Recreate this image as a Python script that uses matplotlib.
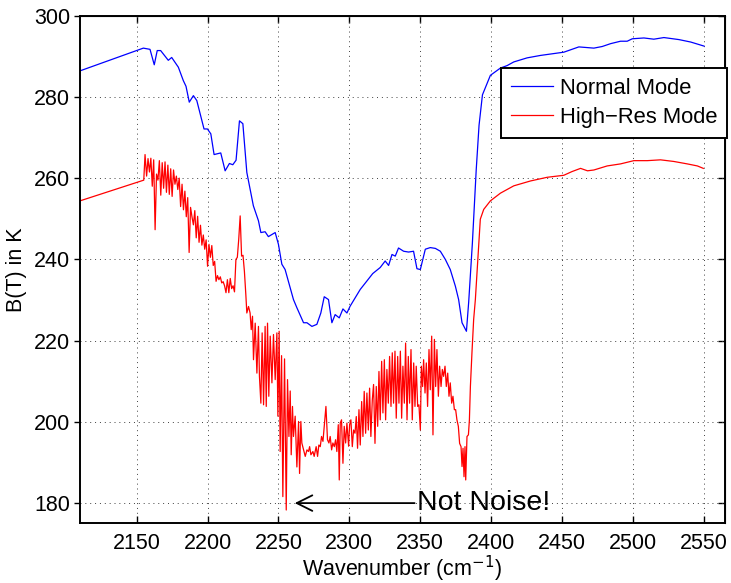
import numpy as np
import matplotlib
matplotlib.use("Agg")
import matplotlib.pyplot as plt

plt.rcParams["font.family"] = ["Liberation Sans", "DejaVu Sans"]

# Normal mode spectrum (wavenumber in cm^-1, brightness temperature in K)
normal_wn = [2110, 2154.7, 2159.4, 2162.4, 2164.5, 2166.9, 2172.3, 2174.7, 2179.4,
             2182.9, 2184.8, 2187.1, 2190.0, 2192.4, 2197.5, 2199.9, 2202.3, 2204.6,
             2209.3, 2212.4, 2215.4, 2217.8, 2220.1, 2222.5, 2224.9, 2227.7, 2232.3,
             2235.9, 2237.6, 2240.6, 2242.9, 2247.7, 2250.0, 2252.4, 2254.7, 2260.6,
             2263.0, 2267.7, 2270.1, 2273.6, 2277.1, 2279.9, 2282.3, 2285.3, 2287.7,
             2290.0, 2292.9, 2295.5, 2298.3, 2300.6, 2307.7, 2312.0, 2316.5, 2321.8,
             2325.3, 2327.7, 2330.1, 2332.4, 2334.7, 2338.3, 2341.8, 2345.3, 2347.7,
             2350.1, 2353.6, 2357.1, 2360.7, 2364.2, 2367.7, 2371.2, 2374.8, 2377.1,
             2379.5, 2382.6, 2384.2, 2386.8, 2389.5, 2391.5, 2393.9, 2399.5, 2406.6,
             2411.3, 2416.0, 2425.4, 2434.8, 2451.3, 2461.9, 2472.5, 2478.4, 2484.3,
             2491.3, 2496.0, 2499.6, 2507.8, 2514.8, 2521.9, 2532.5, 2540.8, 2550.2]
normal_bt = [286.4, 292.0, 291.7, 287.9, 291.4, 291.4, 289.0, 289.7, 287.3,
             284.0, 282.6, 278.7, 280.3, 279.1, 272.1, 272.1, 270.9, 265.8,
             266.2, 261.8, 263.6, 263.3, 264.4, 274.1, 273.4, 261.4, 253.2,
             249.5, 246.6, 246.8, 245.6, 246.6, 243.7, 238.8, 237.5, 230.1,
             228.1, 224.4, 224.4, 223.5, 224.0, 226.8, 230.8, 230.1, 224.4,
             226.4, 225.6, 227.8, 226.8, 228.5, 232.6, 234.5, 236.5, 238.0,
             239.6, 238.5, 241.2, 240.8, 242.8, 242.0, 241.8, 242.0, 237.7,
             237.5, 242.5, 242.9, 242.7, 242.0, 240.0, 237.5, 233.4, 230.1,
             224.4, 222.3, 229.5, 244.0, 262.0, 273.0, 280.5, 285.3, 287.1,
             287.7, 288.6, 289.6, 290.2, 291.0, 292.3, 292.0, 292.4, 293.1,
             293.7, 293.7, 294.3, 294.5, 294.2, 294.6, 294.1, 293.5, 292.5]

# High-resolution mode spectrum
highres_wn = [2110, 2155.0,
              2155.9, 2157, 2158, 2159, 2160, 2161, 2162, 2163, 2164, 2165,
              2166, 2167, 2168, 2169, 2170, 2171, 2172, 2173, 2174, 2175,
              2176, 2177, 2178, 2179, 2180, 2181, 2182, 2183, 2184, 2185,
              2186, 2187, 2188, 2189, 2190, 2191, 2192, 2193, 2194, 2195,
              2196, 2197, 2198, 2199, 2200, 2201, 2202, 2203, 2204, 2205,
              2206, 2207, 2208, 2209, 2210, 2211, 2212, 2213, 2214, 2215,
              2216, 2217, 2218, 2219, 2220, 2221, 2222, 2223, 2224, 2225,
              2226, 2227,
              2227.7, 2228.9, 2230.0, 2230.8, 2231.7, 2232.4, 2233.6, 2234.8, 2235.9, 2236.6,
              2237.6, 2238.5, 2239.5, 2240.6, 2241.4, 2242.3, 2243.2, 2244.2, 2245.4, 2246.5,
              2247.7, 2248.9, 2249.6, 2250.5, 2251.2, 2252.2, 2253.1, 2254.3, 2255.5, 2256.4,
              2257.4, 2258.3, 2259.0, 2259.9, 2260.6, 2261.8, 2263.0, 2264.2, 2264.9, 2265.8,
              2266.5, 2267.7, 2268.9, 2270.1, 2271.2, 2272.0, 2272.9, 2274.3, 2275.2, 2276.6,
              2277.6, 2278.5, 2279.5, 2280.4, 2281.4, 2282.5, 2283.5, 2284.6, 2285.6, 2286.5,
              2287.5, 2288.4, 2289.4, 2290.3, 2291.2, 2292.2, 2292.9, 2293.6, 2294.5, 2295.5,
              2296.4, 2297.4, 2298.3, 2299.5, 2300.2,
              2301.1, 2302.1, 2303.0, 2304.0, 2304.9, 2305.8, 2306.8, 2307.7, 2308.7, 2309.6,
              2310.5, 2311.5, 2312.4, 2313.4, 2314.3, 2315.2, 2316.2, 2317.1, 2318.1, 2319.0,
              2320.0, 2320.9, 2321.8, 2322.8, 2323.7, 2324.7, 2325.6, 2326.5, 2327.5, 2328.4,
              2329.4, 2330.3, 2331.2, 2332.2, 2333.1, 2334.1, 2335.0, 2336.0, 2336.9, 2337.8,
              2338.8, 2339.7, 2340.7, 2341.6, 2342.5, 2343.5, 2344.4, 2345.4, 2346.3, 2347.2,
              2348.2, 2349.1, 2350.1, 2350.8, 2351.7, 2352.4, 2353.4, 2354.3, 2355.2, 2356.2,
              2357.1, 2358.1, 2359.0, 2360.0, 2360.9, 2361.8, 2362.8, 2363.7, 2364.7, 2365.6,
              2366.5, 2367.5, 2368.4, 2369.4, 2370.3, 2371.2, 2372.2, 2373.1, 2374.1, 2375.0,
              2375.9, 2376.9, 2377.8, 2378.8, 2379.5, 2380.2, 2380.9, 2381.6, 2382.1, 2383.0,
              2384.0, 2384.7, 2385.4, 2386.5, 2387.7,
              2388.9, 2392.4, 2394.8, 2399.5, 2406.6, 2416.0, 2427.8, 2439.5, 2451.3, 2457.0,
              2463.1, 2468.0, 2472.5, 2481.9, 2491.3, 2500.7, 2510.2, 2519.5, 2528.9, 2538.4,
              2545.5, 2549.7]
highres_bt = [254.4, 259.5,
              265.8, 260.5, 264.8, 261.5, 264.9, 258.0, 264.5, 247.3, 261.0, 259.5,
              264.3, 255.8, 263.8, 257.5, 264.0, 256.5, 263.2, 256.0, 262.3, 255.5,
              262.0, 258.5, 260.5, 257.2, 260.0, 253.0, 258.5, 252.2, 256.8, 250.5,
              255.2, 241.7, 252.8, 250.5, 248.5, 252.0, 245.3, 250.6, 244.2, 248.4,
              243.5, 246.0, 242.5, 244.8, 238.3, 243.7, 240.5, 243.4, 238.5, 239.5,
              234.6, 236.0, 235.0, 235.7, 234.2, 234.5, 233.5, 231.8, 235.0, 231.8,
              235.3, 232.8, 233.5, 232.0, 240.0, 240.5, 245.0, 250.7, 240.8, 241.0,
              237.0, 231.3,
              226.8, 228.4, 226.8, 222.7, 226.0, 215.3, 224.3, 212.0, 223.5, 211.2,
              204.6, 221.9, 204.2, 223.5, 203.8, 224.3, 206.3, 221.1, 209.6, 221.5,
              210.4, 221.9, 201.4, 222.3, 192.7, 216.3, 181.6, 215.5, 178.3, 210.4,
              196.4, 207.6, 191.9, 203.8, 196.4, 201.4, 188.9, 200.1, 187.3, 200.1,
              194.8, 193.1, 191.5, 193.1, 192.7, 193.9, 191.9, 192.7, 191.5, 193.9,
              191.5, 194.3, 193.9, 196.4, 195.2, 199.7, 203.8, 195.6, 194.8, 196.4,
              193.1, 194.8, 193.9, 195.6, 192.7, 199.3, 185.7, 199.7, 200.5, 189.8,
              198.9, 194.8, 199.7, 194.0, 199.3,
              200.5, 193.9, 198.0, 197.2, 201.3, 193.5, 203.0, 194.3, 205.0, 196.4,
              207.5, 197.2, 207.1, 198.0, 208.3, 196.4, 205.4, 209.2, 194.7, 208.7,
              198.9, 212.4, 200.5, 214.9, 202.2, 215.3, 200.5, 212.9, 204.6, 216.1,
              203.8, 217.0, 204.6, 217.4, 200.9, 216.1, 204.6, 217.4, 200.9, 213.7,
              204.6, 219.4, 200.5, 216.1, 204.6, 217.8, 200.5, 214.5, 203.8, 213.7,
              203.8, 204.2, 198.0, 213.7, 208.7, 215.3, 207.1, 214.5, 203.8, 217.8,
              207.9, 221.1, 196.8, 220.3, 208.7, 217.8, 206.3, 213.7, 208.7, 212.9,
              211.2, 213.7, 208.7, 212.0, 206.3, 209.6, 204.6, 206.3, 203.0, 203.0,
              200.5, 198.9, 194.7, 193.9, 189.0, 193.5, 186.5, 193.9, 185.7, 196.4,
              196.8, 200.5, 208.7, 217.0, 225.2,
              230.1, 249.9, 252.3, 254.4, 256.3, 258.1, 259.3, 260.2, 260.7, 261.6,
              262.4, 261.8, 262.0, 263.0, 263.5, 264.3, 264.3, 264.5, 264.1, 263.5,
              263.0, 262.4]

xticks = [2150, 2200, 2250, 2300, 2350, 2400, 2450, 2500, 2550]
yticks = [180, 200, 220, 240, 260, 280, 300]

fig = plt.figure(figsize=(7.31, 5.83), dpi=100)
ax = fig.add_axes([0.1094, 0.1022, 0.8824, 0.871])

ax.plot(normal_wn, normal_bt, color=(0, 0, 1), lw=0.9, label="Normal Mode")
ax.plot(highres_wn, highres_bt, color=(1, 0, 0), lw=0.9, label="High\u2212Res Mode")

ax.set_xlim(2110, 2565)
ax.set_ylim(175, 300)
ax.set_xticks(xticks)
ax.set_yticks(yticks)
ax.grid(True, color="0.25", linestyle=(0, (1, 4)), lw=0.7)

for s in ax.spines.values():
    s.set_linewidth(1.4)
ax.tick_params(axis="x", direction="in", length=5, width=1.0, labelsize=15.5, pad=7)
ax.tick_params(axis="y", direction="out", length=4, width=1.0, labelsize=15.5, pad=3)

# inward ticks on the top and right edges
top = ax.secondary_xaxis("top")
top.set_xticks(xticks)
top.tick_params(direction="in", length=5, width=1.0, labeltop=False)
right = ax.secondary_yaxis("right")
right.set_yticks(yticks)
right.tick_params(direction="in", length=5, width=1.0, labelright=False)

ax.set_xlabel("Wavenumber (cm$^{-1}$)", fontsize=15.5, labelpad=0)
ax.set_ylabel("B(T) in K", fontsize=15.5, labelpad=5)

ax.annotate("Not Noise!", xy=(2261.5, 180), xytext=(2348, 180),
            fontsize=20.5, va="center", ha="left",
            arrowprops=dict(arrowstyle="->", lw=1.3, color="black",
                            mutation_scale=28, shrinkA=0, shrinkB=0))

leg = ax.legend(loc="upper right", bbox_to_anchor=(1.003, 0.897), fontsize=15.8,
                frameon=True, fancybox=False, handlelength=1.9, handletextpad=0.3,
                labelspacing=0.38, borderpad=0.45, borderaxespad=0)
leg.get_frame().set_edgecolor("black")
leg.get_frame().set_linewidth(1.4)
leg.get_frame().set_alpha(1)

fig.savefig("out.png", dpi=100)
